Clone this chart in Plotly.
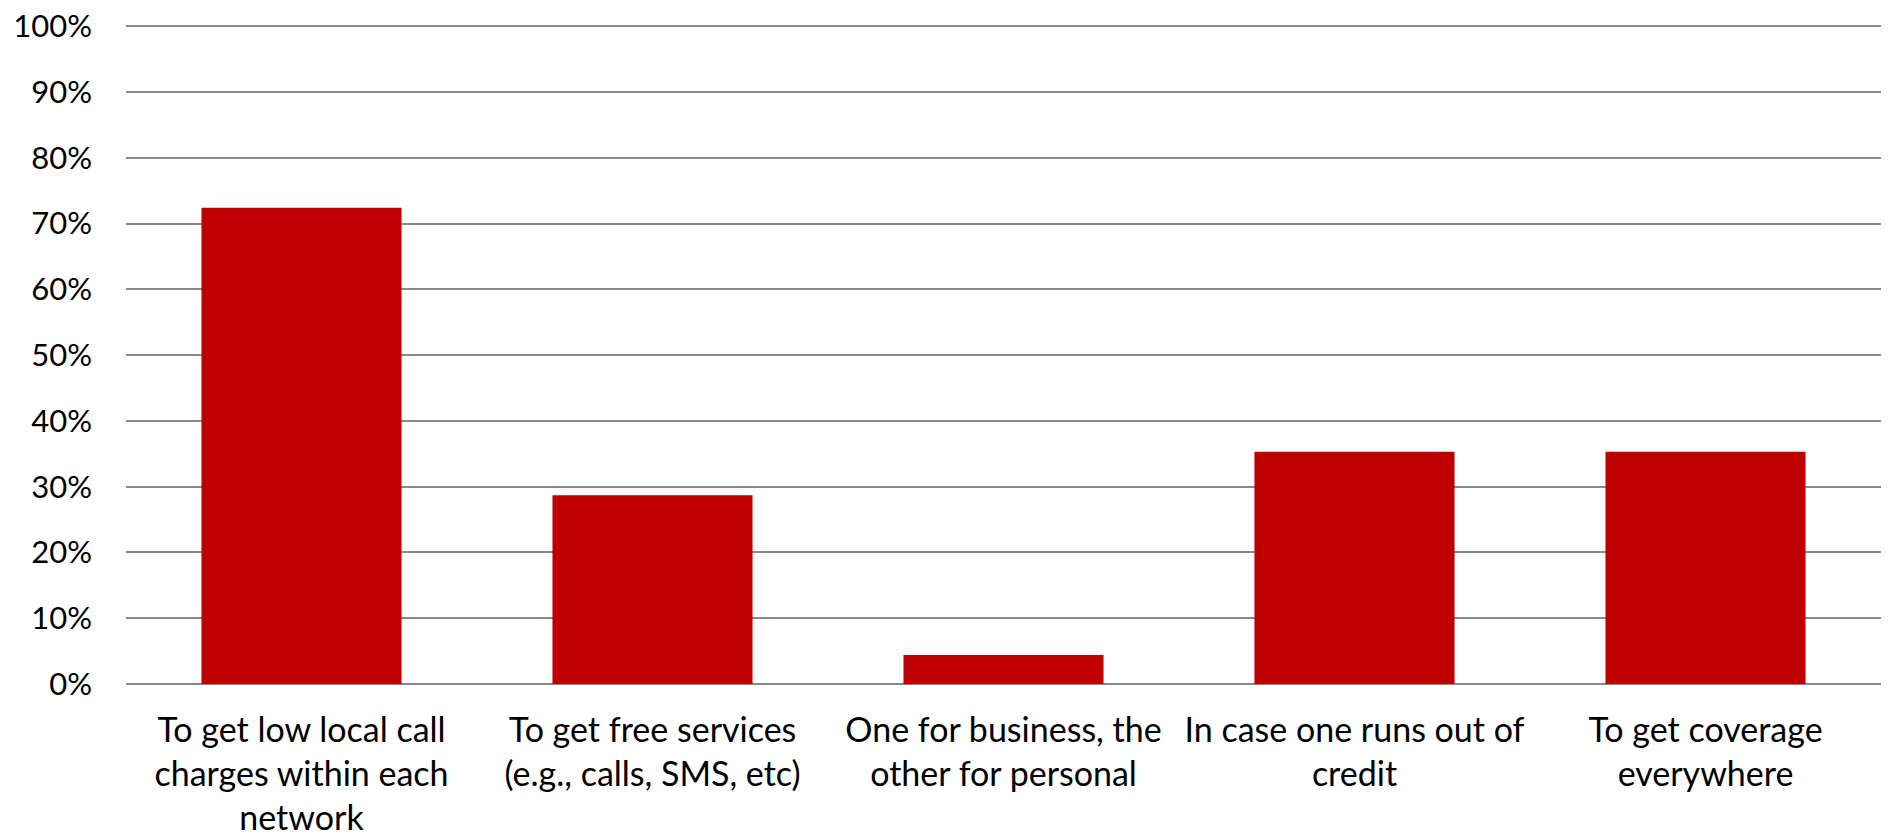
import plotly.graph_objects as go

categories = [
    "To get low local call<br>charges within each<br>network",
    "To get free services<br>(e.g., calls, SMS, etc)",
    "One for business, the<br>other for personal",
    "In case one runs out of<br>credit",
    "To get coverage<br>everywhere",
]
values = [0.724, 0.287, 0.044, 0.353, 0.353]
tick_vals = [0, 0.1, 0.2, 0.3, 0.4, 0.5, 0.6, 0.7, 0.8, 0.9, 1.0]
tick_text = ["0%", "10%", "20%", "30%", "40%", "50%", "60%", "70%", "80%", "90%", "100%"]

FONT = "Lato"

fig = go.Figure(
    go.Bar(
        x=categories,
        y=values,
        marker=dict(color="#C00000", line=dict(width=0)),
        width=0.57,
    )
)

fig.update_layout(
    width=1891,
    height=838,
    margin=dict(l=126, r=10, t=25, b=154),
    plot_bgcolor="white",
    paper_bgcolor="white",
    showlegend=False,
    font=dict(family=FONT, size=31, color="#000000"),
    bargap=0.43,
)
fig.update_yaxes(
    range=[0, 1.002],
    tickvals=tick_vals,
    ticktext=tick_text,
    showgrid=True,
    gridcolor="#888888",
    gridwidth=1.5,
    zeroline=True,
    zerolinecolor="#888888",
    zerolinewidth=1.5,
    showline=False,
    ticks="",
    ticklabelstandoff=33,
    tickfont=dict(family=FONT, size=31),
    automargin=False,
)
fig.update_xaxes(
    showgrid=False,
    showline=False,
    ticks="",
    ticklabelstandoff=23,
    tickfont=dict(family=FONT, size=34),
    tickangle=0,
    automargin=False,
)

fig.write_html(
    "out.html",
    config={"displayModeBar": False},
    post_script="document.body.style.margin='0';document.body.style.overflow='hidden';",
)
